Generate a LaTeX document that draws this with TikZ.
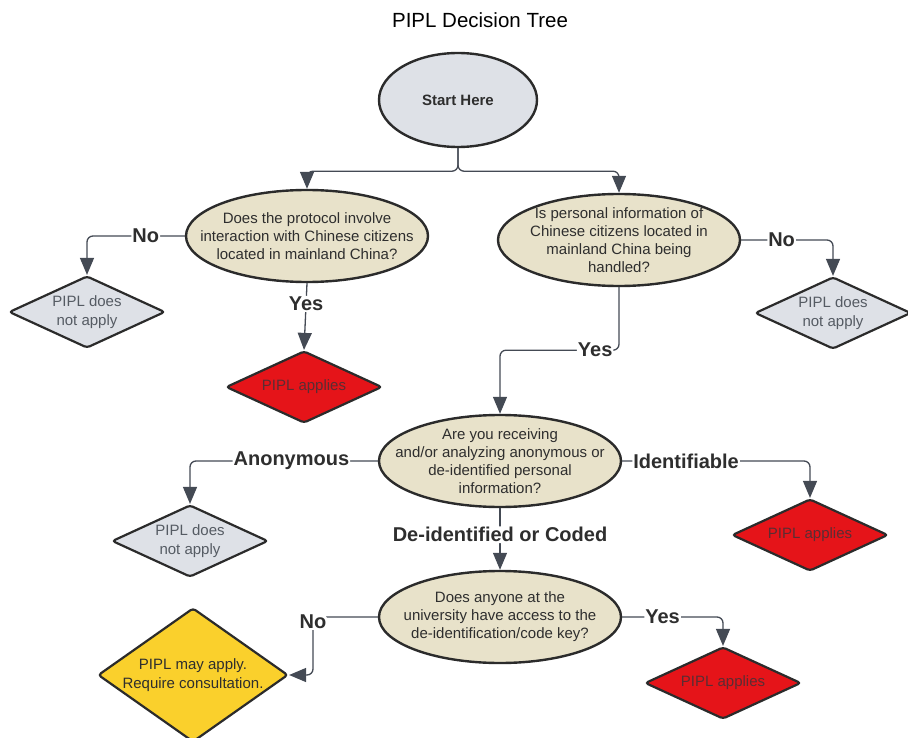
\documentclass[tikz,border=0pt]{standalone}
\usepackage{fontspec}
\setmainfont{Liberation Sans}
\usetikzlibrary{shapes.geometric,arrows.meta}
\definecolor{startgray}{HTML}{DEE1E7}
\definecolor{qbeige}{HTML}{E8E2CA}
\definecolor{pired}{HTML}{E51419}
\definecolor{piyellow}{HTML}{FAD02C}
\definecolor{edgedark}{HTML}{2B2B2B}
\definecolor{linegray}{HTML}{444A54}
\definecolor{textdark}{HTML}{2E2E2E}
\definecolor{nonetext}{HTML}{555B63}
\definecolor{appliestext}{HTML}{5A2D33}

\begin{document}
\begin{tikzpicture}[x=1pt, y=-1pt,
		startnode/.style={ellipse, draw=edgedark, line width=2.4pt, fill=startgray, minimum width=158pt, minimum height=94pt, inner sep=0pt, text=textdark, font=\fontsize{15}{18}\selectfont\bfseries},
		question/.style={ellipse, draw=edgedark, line width=2.4pt, fill=qbeige, minimum width=242pt, minimum height=92pt, inner sep=0pt},
		qtext/.style={align=center, text=textdark, font=\fontsize{15}{18}\selectfont},
		outcome/.style={diamond, draw=edgedark, line width=2.2pt, rounded corners=3pt, minimum width=156pt, minimum height=72pt, inner sep=0pt, aspect=2.2, align=center, font=\fontsize{15}{18.5}\selectfont},
		noapply/.style={outcome, fill=startgray, text=nonetext},
		applies/.style={outcome, fill=pired, text=appliestext},
		mayapply/.style={outcome, fill=piyellow, text=textdark, minimum width=190pt, minimum height=134pt, aspect=1.4},
		flow/.style={draw=linegray, line width=1.3pt, rounded corners=6pt, -{Triangle[width=14pt,length=17pt]}},
		lbl/.style={fill=white, inner sep=1pt, text=textdark, font=\fontsize{20}{23}\selectfont\bfseries}]
		\useasboundingbox (0,0) rectangle (908,738);
		\node[font=\fontsize{20.5}{24}\selectfont] (title) at (480,20) {PIPL Decision Tree};
		\node[startnode] (start) at (458,100) {Start Here};
		\node[question] (q1) at (307,236) {};
		\node[qtext] at (q1) {Does the protocol involve\\interaction with Chinese citizens\\located in mainland China?};
		\node[question] (q2) at (619,240) {};
		\node[qtext] at (q2) {Is personal information of\\Chinese citizens located in\\mainland China being\\handled?};
		\node[question] (q3) at (500,461) {};
		\node[qtext] at (q3) {Are you receiving\\and/or analyzing anonymous or\\de-identified personal\\information?};
		\node[question] (q4) at (500,617) {};
		\node[qtext] at (q4) {Does anyone at the\\university have access to the\\de-identification/code key?};
		\node[noapply] (d1) at (87,312) {PIPL does\\not apply};
		\node[applies] (r1) at (304,387) {PIPL applies};
		\node[noapply] (d2) at (833,313) {PIPL does\\not apply};
		\node[noapply] (d3) at (190,541) {PIPL does\\not apply};
		\node[applies] (r2) at (810,535) {PIPL applies};
		\node[mayapply] (may) at (193,675) {PIPL may apply.\\Require consultation.};
		\node[applies] (r3) at (723,683) {PIPL applies};

		\draw[flow] (start.south) -- ++(0,23) -| (q1.north);
		\draw[flow] (start.south) -- ++(0,23) -| (q2.north);
		\draw[flow] (q1.west) -| node[lbl, pos=0.2] {No} (d1.north);
		\draw[flow] (q1.south) -- node[lbl, pos=0.31] {Yes} (r1.north);
		\draw[flow] (q2.east) -| node[lbl, pos=0.22] {No} (d2.north);
		\draw[flow] (q2.south) -- ++(0,63) -| node[lbl, pos=0.1] {Yes} (q3.north);
		\draw[flow] (q3.west) -| node[lbl, pos=0.23] {Anonymous} (d3.north);
		\draw[flow] (q3.east) -| node[lbl, pos=0.17] {Identifiable} (r2.north);
		\draw[flow] (q3.south) -- node[lbl, pos=0.43] {De-identified or Coded} (q4.north);
		\draw[flow] (q4.west) -- (313,617) node[lbl, yshift=-5pt] {No} |- (may.east);
		\draw[flow] (q4.east) -| node[lbl, pos=0.2] {Yes} (r3.north);
	\end{tikzpicture}
\end{document}
